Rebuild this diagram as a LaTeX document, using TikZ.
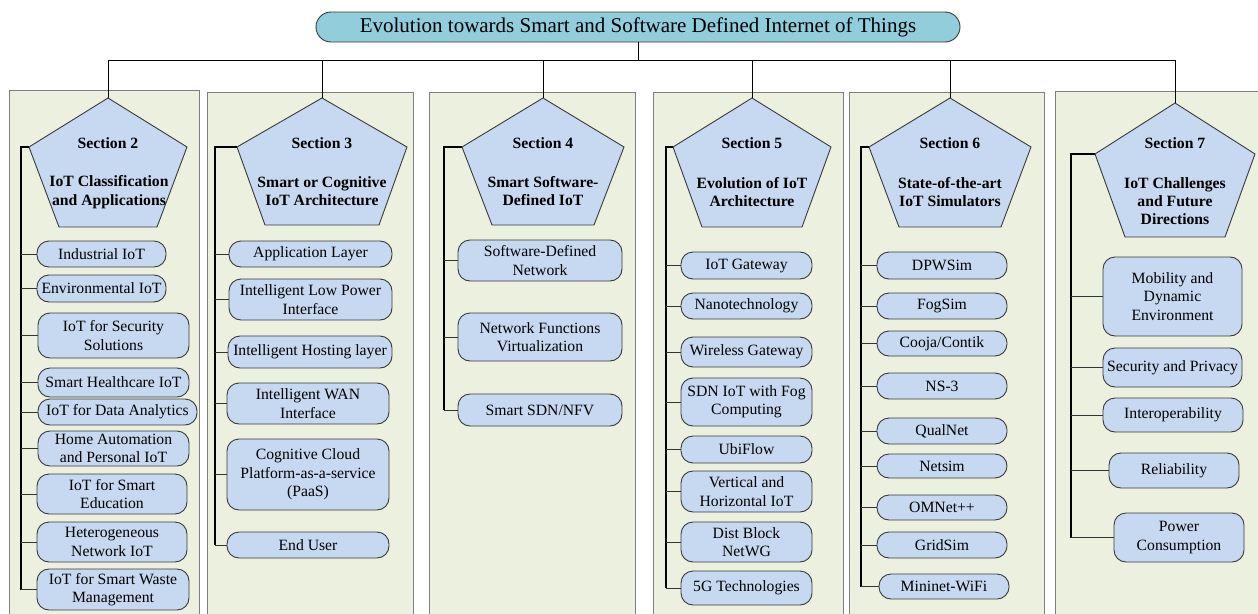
\documentclass[tikz,border=0pt]{standalone}
\usepackage{fontspec}
\setmainfont{Liberation Serif}
\definecolor{panelgreen}{HTML}{EBF1DE}
\definecolor{panelline}{HTML}{7F7F7F}
\definecolor{boxblue}{HTML}{C6D9F1}
\definecolor{boxline}{HTML}{3A3A3A}
\definecolor{titleteal}{HTML}{92CDDC}
\newcommand\mypent[7]{%
  \coordinate (#1t) at (#2,#3);
  \coordinate (#1ul) at ({#2-#4},#5);
  \coordinate (#1ur) at ({#2+#4},#5);
  \coordinate (#1ll) at ({#2-#6},#7);
  \coordinate (#1lr) at ({#2+#6},#7);
  \draw[pent] (#1t) -- (#1ur) -- (#1lr) -- (#1ll) -- (#1ul) -- cycle;
}
\begin{document}
\begin{tikzpicture}[x=1pt,y=-1pt,
  font=\fontsize{15.7}{18.3}\selectfont,
  panel/.style={fill=panelgreen,draw=panelline,line width=1pt},
  pent/.style={fill=boxblue,draw=boxline,line width=0.9pt,line join=miter},
  leaf/.style={fill=boxblue,draw=boxline,line width=0.9pt,rounded corners=12pt,align=center,inner sep=0pt},
  sechead/.style={font=\fontsize{15.7}{18.3}\selectfont\bfseries,anchor=base},
  sectitle/.style={font=\fontsize{15.7}{18.3}\selectfont\bfseries,align=center,inner sep=0pt},
  spine/.style={draw=black,line width=1.6pt},
  spinethin/.style={draw=black,line width=1.1pt},
  branch/.style={draw=black!80,line width=0.9pt},
  link/.style={draw=black,line width=0.9pt}]
\useasboundingbox (0,0) rectangle (1258,613);
\clip (0,0) rectangle (1258,613);
\fill[white] (0,0) rectangle (1258,613);
% panels
\draw[panel] (9,90) rectangle (199,640);
\draw[panel] (207,92) rectangle (413,640);
\draw[panel] (429,92) rectangle (635,640);
\draw[panel] (653,92) rectangle (843,640);
\draw[panel] (849,92) rectangle (1044,640);
\draw[panel] (1055,91) rectangle (1280,640);
% title
\node[fill=titleteal,draw=boxline,line width=0.9pt,rounded corners=15pt,
  minimum width=644pt,minimum height=30pt,inner sep=0pt,
  font=\fontsize{21}{24}\selectfont] (title) at (638,27)
  {Evolution towards Smart and Software Defined Internet of Things};
\coordinate (bus) at (0,60);
% pentagons
\mypent{p2}{108}{98}{79}{147}{49}{227}
\mypent{p3}{322}{98}{85}{147}{57}{225}
\mypent{p4}{543}{98}{81}{147}{51}{225}
\mypent{p5}{752}{98}{79}{147}{50}{227}
\mypent{p6}{950}{98}{81}{147}{51}{227}
\mypent{p7}{1175}{103}{80}{154}{50}{237}
% tree from title
\draw[link] (title.south) -- (title.south |- bus);
\draw[link] (p2t |- bus) -- (p7t |- bus);
\foreach \p in {p2,p3,p4,p5,p6,p7} {\draw[link] (\p t |- bus) -- (\p t);}
% section labels
\node[sechead] (h2) at (108,148) {Section 2};
\node[sechead] (h3) at (322,148) {Section 3};
\node[sechead] (h4) at (543,148) {Section 4};
\node[sechead] (h5) at (752,148) {Section 5};
\node[sechead] (h6) at (950,148) {Section 6};
\node[sechead] (h7) at (1175,148) {Section 7};
\node[sectitle] (t2) at (109,192) {IoT Classification\\and Applications};
\node[sectitle] (t3) at (322,191) {Smart or Cognitive\\IoT Architecture};
\node[sectitle] (t4) at (543,191) {Smart Software-\\Defined IoT};
\node[sectitle] (t5) at (752,192) {Evolution of IoT\\Architecture};
\node[sectitle] (t6) at (950,192) {State-of-the-art\\IoT Simulators};
\node[sectitle] (t7) at (1175,201) {IoT Challenges\\and Future\\Directions};
% spine coordinates
\coordinate (s2) at (21,0);
\coordinate (s3) at (215,0);
\coordinate (s4) at (444,0);
\coordinate (s5) at (666,0);
\coordinate (s6) at (861,0);
\coordinate (s7) at (1071,0);
% Section 2 leaves
\node[leaf,minimum width=129pt,minimum height=26pt] (a1) at (101.5,254) {Industrial IoT};
\node[leaf,minimum width=129pt,minimum height=27pt] (a2) at (101.5,288.5) {Environmental IoT};
\node[leaf,minimum width=151pt,minimum height=45pt] (a3) at (113.5,335.5) {IoT for Security\\Solutions};
\node[leaf,minimum width=151pt,minimum height=29pt] (a4) at (113.5,382.5) {Smart Healthcare IoT};
\node[leaf,minimum width=159pt,minimum height=26pt] (a5) at (117.5,412) {IoT for Data Analytics};
\node[leaf,minimum width=151pt,minimum height=35pt] (a6) at (113.5,448.5) {Home Automation\\and Personal IoT};
\node[leaf,minimum width=150pt,minimum height=40pt] (a7) at (112,494) {IoT for Smart\\Education};
\node[leaf,minimum width=150pt,minimum height=40pt] (a8) at (112,542) {Heterogeneous\\Network IoT};
\node[leaf,minimum width=152pt,minimum height=41pt] (a9) at (113,589.5) {IoT for Smart Waste\\Management};
% Section 3 leaves
\node[leaf,minimum width=163pt,minimum height=26pt] (b1) at (310.5,254) {Application Layer};
\node[leaf,minimum width=163pt,minimum height=41pt] (b2) at (310.5,299.5) {Intelligent Low Power\\Interface};
\node[leaf,minimum width=164pt,minimum height=32pt] (b3) at (310,352) {Intelligent Hosting layer};
\node[leaf,minimum width=162pt,minimum height=41pt] (b4) at (308,403.5) {Intelligent WAN\\Interface};
\node[leaf,minimum width=162pt,minimum height=71pt] (b5) at (308,474.5) {Cognitive Cloud\\Platform-as-a-service\\(PaaS)};
\node[leaf,minimum width=162pt,minimum height=26pt] (b6) at (308,545) {End User};
% Section 4 leaves
\node[leaf,minimum width=164pt,minimum height=41pt] (c1) at (540,260.5) {Software-Defined\\Network};
\node[leaf,minimum width=164pt,minimum height=48pt] (c2) at (540,337) {Network Functions\\Virtualization};
\node[leaf,minimum width=164pt,minimum height=32pt] (c3) at (540,410) {Smart SDN/NFV};
% Section 5 leaves
\node[leaf,minimum width=131pt,minimum height=27pt] (d1) at (746.5,265.5) {IoT Gateway};
\node[leaf,minimum width=131pt,minimum height=26pt] (d2) at (746.5,306) {Nanotechnology};
\node[leaf,minimum width=131pt,minimum height=30pt] (d3) at (746.5,352) {Wireless Gateway};
\node[leaf,minimum width=131pt,minimum height=48pt] (d4) at (746.5,402) {SDN IoT with Fog\\Computing};
\node[leaf,minimum width=131pt,minimum height=27pt] (d5) at (746.5,449.5) {UbiFlow};
\node[leaf,minimum width=131pt,minimum height=41pt] (d6) at (746.5,491.5) {Vertical and\\Horizontal IoT};
\node[leaf,minimum width=131pt,minimum height=40pt] (d7) at (746.5,542) {Dist Block\\NetWG};
\node[leaf,minimum width=131pt,minimum height=34pt] (d8) at (746.5,588) {5G Technologies};
% Section 6 leaves
\node[leaf,minimum width=130pt,minimum height=27pt] (e1) at (942,265.5) {DPWSim};
\node[leaf,minimum width=130pt,minimum height=26pt] (e2) at (942,306) {FogSim};
\node[leaf,minimum width=130pt,minimum height=25pt] (e3) at (942,343.5) {Cooja/Contik};
\node[leaf,minimum width=130pt,minimum height=26pt] (e4) at (942,386) {NS-3};
\node[leaf,minimum width=130pt,minimum height=26pt] (e5) at (942,431) {QualNet};
\node[leaf,minimum width=130pt,minimum height=24pt] (e6) at (942,466) {Netsim};
\node[leaf,minimum width=130pt,minimum height=25pt] (e7) at (942,507.5) {OMNet++};
\node[leaf,minimum width=130pt,minimum height=26pt] (e8) at (942,545) {GridSim};
\node[leaf,minimum width=130pt,minimum height=25pt] (e9) at (944,586.5) {Mininet-WiFi};
% Section 7 leaves
\node[leaf,minimum width=139pt,minimum height=79pt] (f1) at (1172.5,296.5) {Mobility and\\Dynamic\\Environment};
\node[leaf,minimum width=139pt,minimum height=39pt] (f2) at (1172.5,367.5) {Security and Privacy};
\node[leaf,minimum width=140pt,minimum height=34pt] (f3) at (1173,415) {Interoperability};
\node[leaf,minimum width=130pt,minimum height=35pt] (f4) at (1174,470.5) {Reliability};
\node[leaf,minimum width=130pt,minimum height=49pt] (f5) at (1179,537.5) {Power\\Consumption};
% spines
\draw[spine] (p2ul) -| (a9.west -| s2);
\draw[spinethin] (p3ul) -| (b6.west -| s3);
\draw[spinethin] (p4ul) -| (c3.west -| s4);
\draw[spine] (p5ul) -| (d8.west -| s5);
\draw[spine] (p6ul) -| (e9.west -| s6);
\draw[spine] (p7ul) -| (f5.west -| s7);
% branches
\foreach \n in {a1,a2,a3,a4,a5,a6,a7,a8,a9} {\draw[branch] (\n.west -| s2) -- (\n.west);}
\foreach \n in {b1,b2,b3,b4,b5,b6} {\draw[branch] (\n.west -| s3) -- (\n.west);}
\foreach \n in {c1,c2,c3} {\draw[branch] (\n.west -| s4) -- (\n.west);}
\foreach \n in {d1,d2,d3,d4,d5,d6,d7,d8} {\draw[branch] (\n.west -| s5) -- (\n.west);}
\foreach \n in {e1,e2,e3,e4,e5,e6,e7,e8,e9} {\draw[branch] (\n.west -| s6) -- (\n.west);}
\foreach \n in {f1,f2,f3,f4,f5} {\draw[branch] (\n.west -| s7) -- (\n.west);}
\end{tikzpicture}
\end{document}
